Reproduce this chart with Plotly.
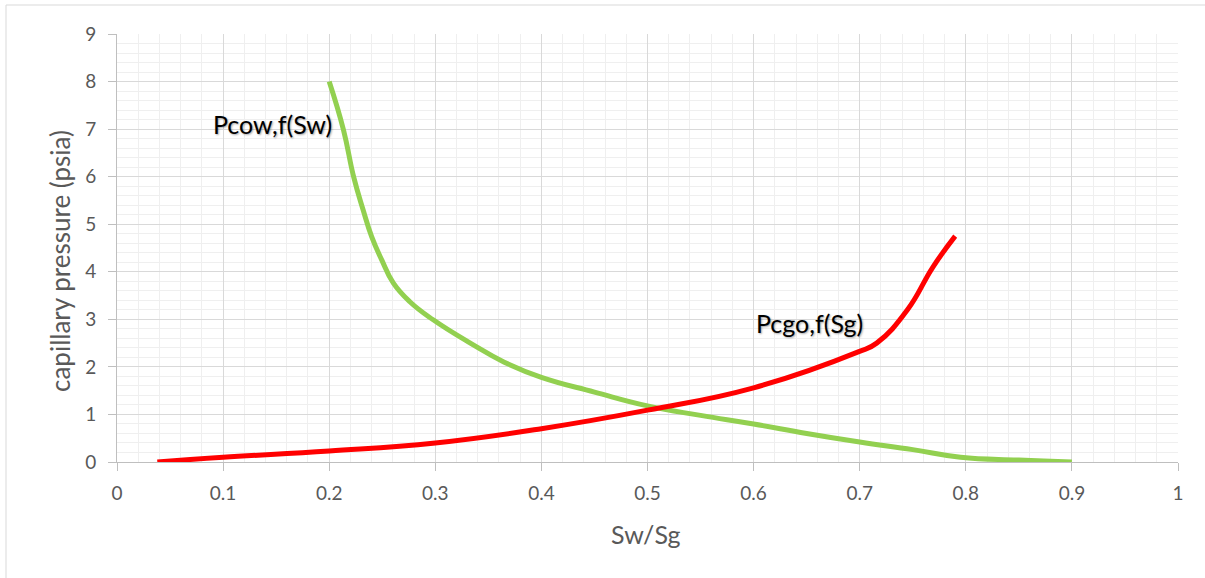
import plotly.graph_objects as go

# Water-oil capillary pressure as a function of water saturation
sw = [0.2, 0.2135, 0.223, 0.232, 0.24, 0.2495, 0.2605, 0.276, 0.298, 0.333, 0.365,
      0.4, 0.45, 0.5, 0.55, 0.6, 0.65, 0.7, 0.75, 0.795, 0.85, 0.9]
pcow = [8.0, 6.98, 6.0, 5.3, 4.74, 4.25, 3.76, 3.37, 2.99, 2.5, 2.1,
        1.78, 1.47, 1.18, 0.98, 0.8, 0.6, 0.42, 0.26, 0.1, 0.04, 0.0]

# Gas-oil capillary pressure as a function of gas saturation
sg = [0.038, 0.1, 0.2, 0.3, 0.4, 0.5, 0.6, 0.698, 0.716, 0.745, 0.769, 0.79]
pcgo = [0.0, 0.1, 0.23, 0.4, 0.7, 1.09, 1.56, 2.31, 2.5, 3.2, 4.1, 4.75]

x_ticks = [0, 0.1, 0.2, 0.3, 0.4, 0.5, 0.6, 0.7, 0.8, 0.9, 1]
x_tick_text = ["0", "0.1", "0.2", "0.3", "0.4", "0.5", "0.6", "0.7", "0.8", "0.9", "1"]
y_ticks = [0, 1, 2, 3, 4, 5, 6, 7, 8, 9]

W, H = 1205, 578
L, R, T, B = 117, 27, 34, 116
pw, ph = W - L - R, H - T - B


def px(x):
    return (x - L) / pw


def py(y):
    return (H - B - y) / ph


FONT = "Lato"
TICK_COLOR = "#595959"

fig = go.Figure()
fig.add_trace(go.Scatter(x=sw, y=pcow, mode="lines",
                         line=dict(color="#92d050", width=5, shape="spline", smoothing=1.3),
                         name="Pcow", showlegend=False, hoverinfo="x+y"))
fig.add_trace(go.Scatter(x=sg, y=pcgo, mode="lines",
                         line=dict(color="#ff0000", width=5, shape="spline", smoothing=1.3),
                         name="Pcgo", showlegend=False, hoverinfo="x+y"))

axis_common = dict(
    showline=True, linecolor="#bfbfbf", linewidth=1,
    ticks="outside", ticklen=8, tickcolor="#bfbfbf", tickwidth=1,
    showgrid=True, gridcolor="#d9d9d9", gridwidth=1,
    zeroline=False,
    tickfont=dict(family=FONT, size=19, color=TICK_COLOR),
)

fig.update_xaxes(range=[0, 1], tickvals=x_ticks, ticktext=x_tick_text,
                 minor=dict(dtick=0.02, showgrid=True, gridcolor="#efefef", gridwidth=1, ticks=""),
                 ticklabelstandoff=6, **axis_common)
fig.update_yaxes(range=[0, 9], tickvals=y_ticks,
                 minor=dict(dtick=0.2, showgrid=True, gridcolor="#efefef", gridwidth=1, ticks=""),
                 ticklabelstandoff=8, **axis_common)

shadow = "1px 1px 2px rgba(0,0,0,0.35)"
annotations = [
    dict(text="Pcow,f(Sw)", x=0.147, y=7.1, xref="x", yref="y", showarrow=False,
         font=dict(family=FONT, size=25, color="#000000", shadow=shadow)),
    dict(text="Pcgo,f(Sg)", x=0.653, y=2.92, xref="x", yref="y", showarrow=False,
         font=dict(family=FONT, size=25, color="#000000", shadow=shadow)),
    dict(text="Sw/Sg", x=px(646), y=py(534), xref="paper", yref="paper", showarrow=False,
         xanchor="center", yanchor="middle",
         font=dict(family=FONT, size=25, color=TICK_COLOR)),
    dict(text="capillary pressure (psia)", x=px(60), y=py(261), xref="paper", yref="paper",
         showarrow=False, textangle=-90, xanchor="center", yanchor="middle",
         font=dict(family=FONT, size=26, color=TICK_COLOR)),
]

# Chart frame edges
shapes = [
    dict(type="line", xref="paper", yref="paper", x0=px(6), x1=px(W + 2), y0=py(5), y1=py(5),
         line=dict(color="#d9d9d9", width=1)),
    dict(type="line", xref="paper", yref="paper", x0=px(6), x1=px(6), y0=py(5), y1=py(H + 2),
         line=dict(color="#d9d9d9", width=1)),
]

fig.update_layout(
    width=W, height=H,
    margin=dict(l=L, r=R, t=T, b=B),
    paper_bgcolor="white", plot_bgcolor="white",
    annotations=annotations, shapes=shapes,
    showlegend=False,
)

fig.write_html("out.html", include_plotlyjs=True, config={"displayModeBar": False})
